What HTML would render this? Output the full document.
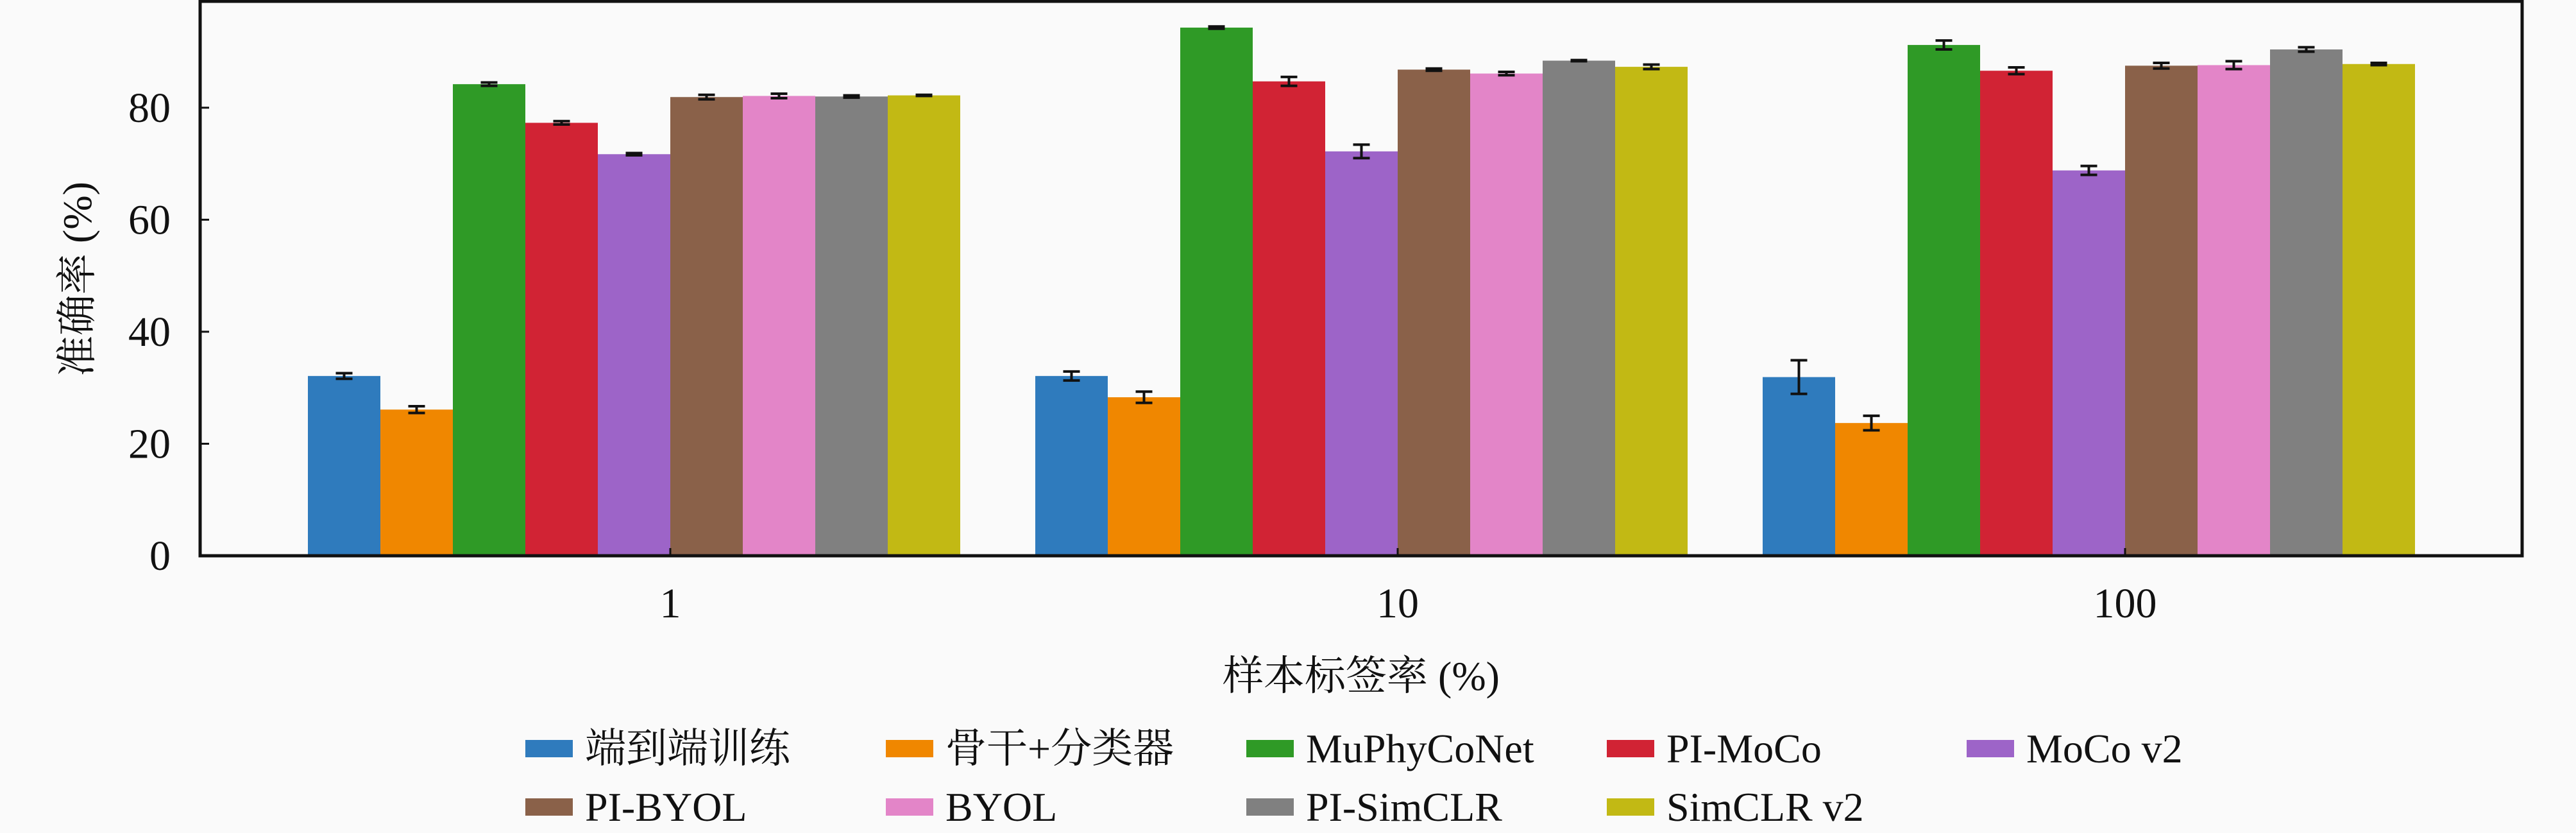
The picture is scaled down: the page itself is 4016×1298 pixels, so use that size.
<!DOCTYPE html>
<html><head><meta charset="utf-8"><style>
html,body{margin:0;padding:0;background:#fafafa;}
svg{display:block;}
svg text{font-family:"Liberation Serif","Noto Serif CJK SC",serif !important;fill:#111;}
</style></head><body>
<svg id="chart" width="4016" height="1298" viewBox="0 0 4016 1298" xmlns="http://www.w3.org/2000/svg" font-family="'Liberation Serif','Noto Serif CJK SC',serif">
<rect x="0" y="0" width="4016" height="1298" fill="#fafafa"/>
<g id="bars"></g>
<g id="axes"></g>
<g id="legend"></g>
</svg>
<script>
const categories = ["1", "10", "100"];
const seriesNames = ["端到端训练", "骨干+分类器", "MuPhyCoNet", "PI-MoCo", "MoCo v2", "PI-BYOL", "BYOL", "PI-SimCLR", "SimCLR v2"];
const colors = ["#2f7bbd", "#f08700", "#2f9a26", "#d12334", "#9d64c8", "#8a6149", "#e385c8", "#808080", "#c2b914"];
const vals1 = [32.1, 26.1, 84.2, 77.3, 71.7, 81.9, 82.1, 82.0, 82.2];
const vals10 = [32.1, 28.3, 94.3, 84.7, 72.2, 86.8, 86.1, 88.4, 87.3];
const vals100 = [31.9, 23.7, 91.2, 86.6, 68.8, 87.5, 87.6, 90.4, 87.8];
const err1 = [0.5, 0.6, 0.3, 0.3, 0.2, 0.4, 0.4, 0.2, 0.1];
const err10 = [0.8, 1.0, 0.2, 0.8, 1.2, 0.2, 0.3, 0.1, 0.4];
const err100 = [3.0, 1.3, 0.8, 0.6, 0.8, 0.5, 0.7, 0.4, 0.2];
const yTicks = [0, 20, 40, 60, 80];

const NS = "http://www.w3.org/2000/svg";
const FONT = "'Liberation Serif','Noto Serif CJK SC',serif";
const L = 312, R = 3932, T = 2, B = 866;
const yMax = 99.0;
const groupCenters = [1045, 2179, 3313];
const barW = 113;
function y(v){ return B - v / yMax * (B - T); }
function mk(tag, attrs, parent){
  const e = document.createElementNS(NS, tag);
  for (const k in attrs) e.setAttribute(k, attrs[k]);
  if (tag === 'text') e.setAttribute('font-family', FONT);
  parent.appendChild(e); return e;
}
const gb = document.getElementById('bars');
const ga = document.getElementById('axes');
const gl = document.getElementById('legend');
const allVals = [vals1, vals10, vals100];
const allErr = [err1, err10, err100];
categories.forEach((c, gi) => {
  const cx = groupCenters[gi];
  seriesNames.forEach((s, si) => {
    const v = allVals[gi][si], e = allErr[gi][si];
    const x0 = cx - 5 * barW + si * barW;
    const r = mk('rect', {x: x0, y: y(v), width: barW, height: B - y(v), fill: colors[si]}, gb);
    
    
    const xm = x0 + barW / 2;
    const eg = mk('g', {stroke: '#111', 'stroke-width': 4}, gb);
    
    
    mk('line', {x1: xm, x2: xm, y1: y(v + e), y2: y(v - e)}, eg);
    mk('line', {x1: xm - 13, x2: xm + 13, y1: y(v + e), y2: y(v + e)}, eg);
    mk('line', {x1: xm - 13, x2: xm + 13, y1: y(v - e), y2: y(v - e)}, eg);
  });
  const tk = mk('line', {x1: cx, x2: cx, y1: B, y2: B - 12, stroke: '#111', 'stroke-width': 3}, ga);
  
  
  const t = mk('text', {x: cx, y: 962, 'font-size': 66, 'text-anchor': 'middle'}, ga);
  t.textContent = c;
  
  
});
yTicks.forEach(v => {
  const tk = mk('line', {x1: L, x2: L + 14, y1: y(v), y2: y(v), stroke: '#111', 'stroke-width': 3}, ga);
  
  
  const t = mk('text', {x: 266, y: y(v) + 22, 'font-size': 66, 'text-anchor': 'end'}, ga);
  t.textContent = v;
  
  
});
const frame = mk('rect', {x: L, y: T, width: R - L, height: B - T, fill: 'none', stroke: '#111', 'stroke-width': 5}, ga);


const yt = mk('text', {x: 0, y: 0, 'font-size': 64, 'text-anchor': 'middle', transform: 'translate(142,435) rotate(-90)'}, ga);
yt.textContent = '准确率 (%)';


const xt = mk('text', {x: 2122, y: 1075, 'font-size': 64, 'text-anchor': 'middle'}, ga);
xt.textContent = '样本标签率 (%)';


const colX = [819, 1381, 1943, 2505, 3066];
const rowY = [1153, 1244];
seriesNames.forEach((s, i) => {
  const row = Math.floor(i / 5), col = i % 5;
  const g = mk('g', {}, gl);
  
  
  mk('rect', {x: colX[col], y: rowY[row], width: 74, height: 27, fill: colors[i]}, g);
  const t = mk('text', {x: colX[col] + 93, y: rowY[row] + 35, 'font-size': 64}, g);
  t.textContent = s;
});
</script>
</body></html>
